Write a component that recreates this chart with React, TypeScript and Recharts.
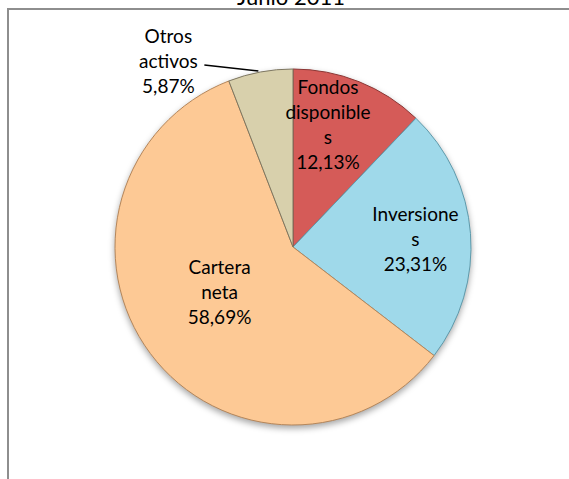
import { Cell, Pie, PieChart } from "recharts"

const categories = ["Fondos disponibles", "Inversiones", "Cartera neta", "Otros activos"]
const values = [12.13, 23.31, 58.69, 5.87]
// label text as broken in the original chart
const labelLines = [
    ["Fondos", "disponible", "s", "12,13%"],
    ["Inversione", "s", "23,31%"],
    ["Cartera", "neta", "58,69%"],
    ["Otros", "activos", "5,87%"],
]

const colors = ["#D55B58", "#9FD9EA", "#FDC995", "#D8D0AC"]
const edges = ["#8a3533", "#5e9aab", "#b5865a", "#7d7660"]

const data = categories.map((name, i) => ({ name, value: values[i] }))

const RAD = Math.PI / 180
// label centre: radius factor and angle nudge (deg)
const labelPos = [
    { r: 0.72, da: 6, dy: 0 },
    { r: 0.69, da: 0, dy: 0 },
    { r: 0.48, da: -6, dy: 0 },
]

const LINE_H = 25

const renderLabel = (props: any) => {
    const { cx, cy, midAngle, outerRadius, index } = props
    const lines = labelLines[index]
    let x: number
    let y: number
    let leader = null
    if (index === 3) {
        // outside label with leader line
        const px = cx + outerRadius * Math.cos(-midAngle * RAD)
        const py = cy + outerRadius * Math.sin(-midAngle * RAD)
        x = px - 92
        y = py - 12
        leader = <path d={`M${px - 2},${py - 1} L${x + 36},${py - 7}`} stroke="#000" strokeWidth={1.5} fill="none" />
    } else {
        const p = labelPos[index]
        const a = midAngle + p.da
        x = cx + outerRadius * p.r * Math.cos(-a * RAD)
        y = cy + outerRadius * p.r * Math.sin(-a * RAD) + p.dy
    }
    const top = y - ((lines.length - 1) * LINE_H) / 2
    return (
        <g>
            {leader}
            <text x={x} y={top} textAnchor="middle" dominantBaseline="central" fontFamily="Lato, 'Open Sans', sans-serif" fontSize={19} fill="#000">
                {lines.map((l, i) => (
                    <tspan key={i} x={x} y={top + i * LINE_H}>{l}</tspan>
                ))}
            </text>
        </g>
    )
}

const App = () => {
    return (
        <div style={{ position: "absolute", left: 0, top: 0, width: 569, height: 479, overflow: "hidden", background: "#fff" }}>
            <style>{`.recharts-pie { filter: drop-shadow(0px 3px 3px rgba(0,0,0,0.35)); }`}</style>
            <div style={{ position: "absolute", left: 7, top: 8, width: 700, height: 600, borderLeft: "2px solid #8e8e8e", borderTop: "2px solid #8e8e8e" }} />
            <div style={{ position: "absolute", left: 0, top: 0 }}>
                <PieChart width={569} height={479} margin={{ top: 0, right: 0, bottom: 0, left: 0 }}>
                    <text x={291} y={5} textAnchor="middle" fontFamily="Lato, 'Open Sans', sans-serif" fontSize={22} fill="#000">Junio 2011</text>
                    <Pie
                        data={data}
                        dataKey="value"
                        nameKey="name"
                        cx={293}
                        cy={247}
                        outerRadius={178}
                        startAngle={90}
                        endAngle={-270}
                        label={renderLabel}
                        labelLine={false}
                        isAnimationActive={false}
                    >
                        {data.map((d, i) => (
                            <Cell key={d.name} fill={colors[i]} stroke={edges[i]} strokeWidth={1} />
                        ))}
                    </Pie>
                </PieChart>
            </div>
        </div>
    )
}

export default App
